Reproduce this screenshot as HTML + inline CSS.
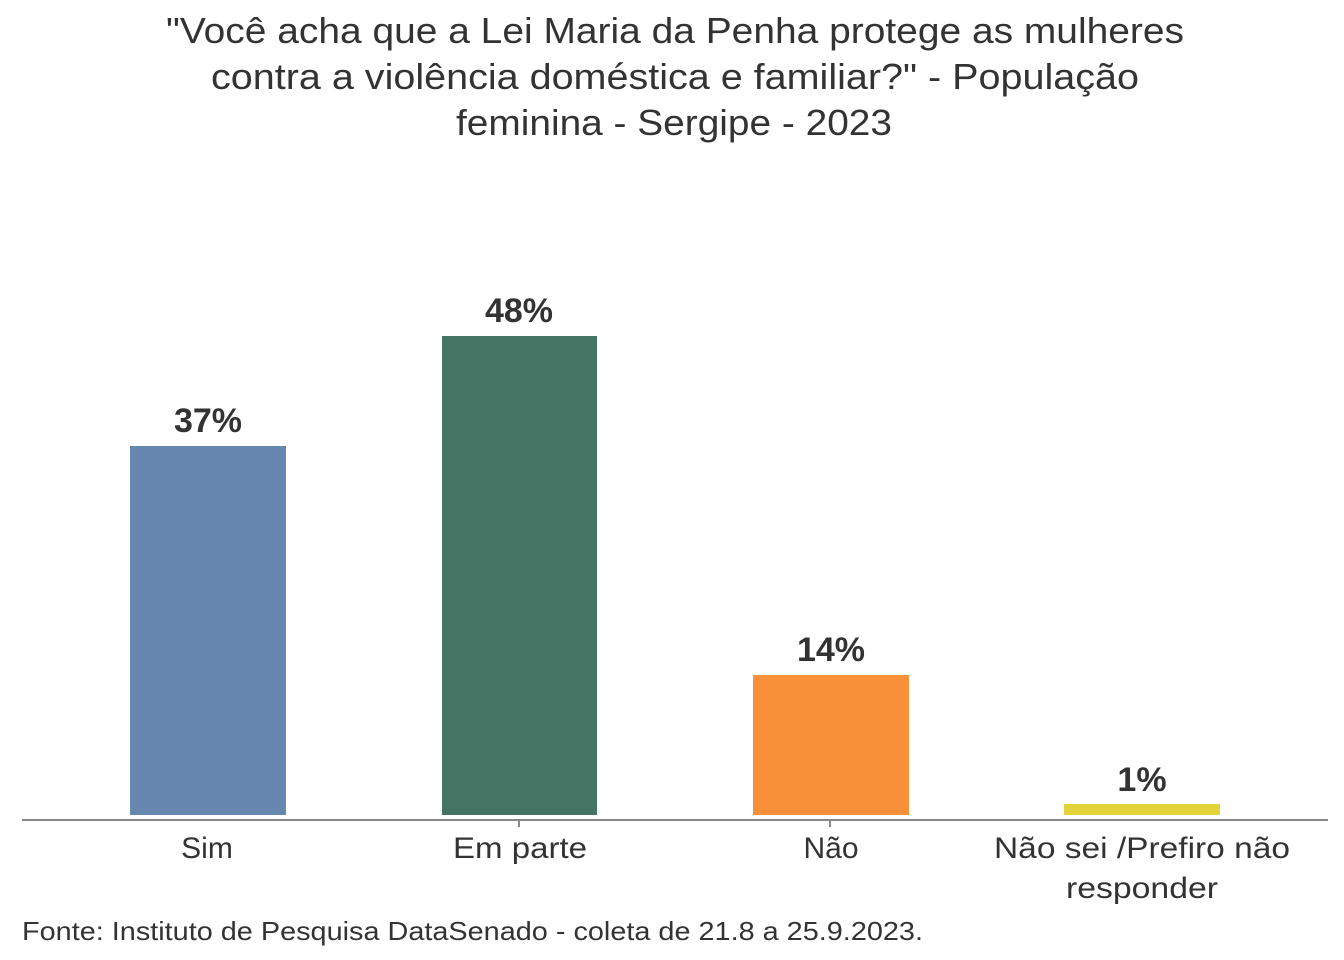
<!DOCTYPE html>
<html><head><meta charset="utf-8"><style>
html,body{margin:0;padding:0;background:#fff;}
svg{display:block;}
text{font-family:"Liberation Sans",sans-serif;fill:#333;}
</style></head><body>
<svg width="1344" height="960" viewBox="0 0 1344 960" xmlns="http://www.w3.org/2000/svg">
<g font-size="36" text-anchor="middle">
<text x="675" y="43" textLength="1018" lengthAdjust="spacingAndGlyphs">"Você acha que a Lei Maria da Penha protege as mulheres</text>
<text x="675" y="89" textLength="928" lengthAdjust="spacingAndGlyphs">contra a violência doméstica e familiar?" - População</text>
<text x="674" y="135" textLength="436" lengthAdjust="spacingAndGlyphs">feminina - Sergipe - 2023</text>
</g>
<rect x="130" y="446" width="156" height="369" fill="#6787AF"/>
<rect x="442" y="336" width="155" height="479" fill="#447463"/>
<rect x="753" y="675" width="156" height="140" fill="#F8903A"/>
<rect x="1064" y="804" width="156" height="11" fill="#E2D43A"/>
<line x1="22" y1="820" x2="1328" y2="820" stroke="#888" stroke-width="2"/>
<g stroke="#888" stroke-width="2">
<line x1="519" y1="820" x2="519" y2="827"/>
<line x1="830" y1="820" x2="830" y2="827"/>
</g>
<g font-size="34" font-weight="bold" text-anchor="middle">
<text x="208" y="432">37%</text>
<text x="519" y="322">48%</text>
<text x="831" y="661">14%</text>
<text x="1142" y="791">1%</text>
</g>
<g font-size="30" text-anchor="middle">
<text x="207" y="858">Sim</text>
<text x="520" y="858" textLength="134" lengthAdjust="spacingAndGlyphs">Em parte</text>
<text x="831" y="858">Não</text>
<text x="1142" y="858" textLength="296" lengthAdjust="spacingAndGlyphs">Não sei /Prefiro não</text>
<text x="1142" y="898" textLength="152" lengthAdjust="spacingAndGlyphs">responder</text>
</g>
<text x="22" y="940" font-size="26" textLength="901" lengthAdjust="spacingAndGlyphs">Fonte: Instituto de Pesquisa DataSenado - coleta de 21.8 a 25.9.2023.</text>
</svg>
</body></html>
